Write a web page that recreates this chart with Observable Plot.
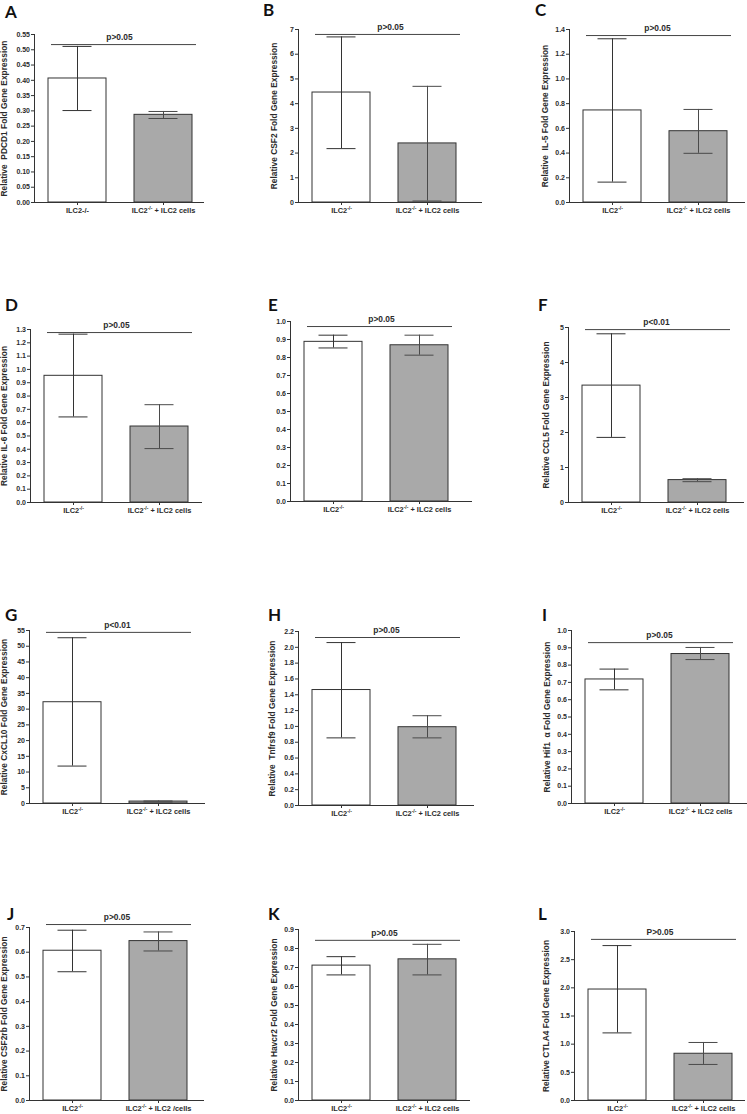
<!DOCTYPE html>
<html><head><meta charset="utf-8">
<script src="https://cdn.jsdelivr.net/npm/d3@7"></script>
<script src="https://cdn.jsdelivr.net/npm/@observablehq/plot@0.6"></script>
<style>
html,body{margin:0;padding:0;background:#fff;overflow:hidden}
#wrap{position:relative;width:747px;height:1114px;background:#fff}
.panel{position:absolute;overflow:visible}
.letter{position:absolute;font-family:Lato,"DejaVu Sans",sans-serif;font-weight:700;font-size:17px;line-height:18px;color:#111}
svg [aria-label="y-axis label"] text, svg [aria-label="y-axis label"]{font-size:8.4px}
</style></head>
<body><div id="wrap"></div>
<script>
// ---- data ----
const panelIds = ["A","B","C","D","E","F","G","H","I","J","K","L"];
const yTitles = [
  "Relative  PDCD1 Fold Gene Expression",
  "Relative CSF2 Fold Gene Expression",
  "Relative  IL-5 Fold Gene Expression",
  "Relative IL-6 Fold Gene Expression",
  "",
  "Relative CCL5 Fold Gene Expression",
  "Relative CxCL10 Fold Gene Expression",
  "Relative  Tnfrsf9 Fold Gene Expression",
  "Relative Hif1  \u03b1 Fold Gene Expression",
  "Relative CSF2rb Fold Gene Expression",
  "Relative Havcr2 Fold Gene Expression",
  "Relative CTLA4 Fold Gene Expression"
];
const SUP = "\u207b/\u207b";
const koLabels  = ["ILC2-/-","ILC2"+SUP,"ILC2"+SUP,"ILC2"+SUP,"ILC2"+SUP,"ILC2"+SUP,"ILC2"+SUP,"ILC2"+SUP,"ILC2"+SUP,"ILC2"+SUP,"ILC2"+SUP,"ILC2"+SUP];
const addLabels = ["ILC2"+SUP+" + ILC2 cells","ILC2"+SUP+" + ILC2 cells","ILC2"+SUP+" + ILC2 cells","ILC2"+SUP+" + ILC2 cells","ILC2"+SUP+" + ILC2 cells","ILC2"+SUP+" + ILC2 cells","ILC2"+SUP+" + ILC2 cells","ILC2"+SUP+" + ILC2 cells","ILC2"+SUP+" + ILC2 cells","ILC2"+SUP+" + ILC2 /cells","ILC2"+SUP+" + ILC2 cells","ILC2"+SUP+" + ILC2 cells"];
const koMean  = [0.406, 4.45, 0.745, 0.952, 0.887, 3.34, 32.2, 1.46, 0.717, 0.606, 0.710, 1.97];
const koLo    = [0.301, 2.18, 0.165, 0.643, 0.853, 1.86, 11.9, 0.855, 0.657, 0.521, 0.661, 1.20];
const koHi    = [0.511, 6.70, 1.325, 1.265, 0.924, 4.82, 52.7, 2.06, 0.777, 0.689, 0.757, 2.75];
const addMean = [0.287, 2.39, 0.577, 0.571, 0.868, 0.64, 0.62, 0.99, 0.864, 0.645, 0.743, 0.83];
const addLo   = [0.275, 0.06, 0.398, 0.405, 0.813, 0.595, 0.45, 0.855, 0.832, 0.605, 0.661, 0.64];
const addHi   = [0.298, 4.70, 0.753, 0.735, 0.924, 0.68, 0.80, 1.135, 0.902, 0.682, 0.822, 1.03];
const pLabels = ["p>0.05","p>0.05","p>0.05","p>0.05","p>0.05","p<0.01","p<0.01","p>0.05","p>0.05","p>0.05","p>0.05","P>0.05"];
const pLineY  = [0.517, 6.80, 1.351, 1.277, 0.972, 4.94, 54.4, 2.124, 0.93, 0.712, 0.843, 2.86];
const yTicks = [
  [0,0.05,0.10,0.15,0.20,0.25,0.30,0.35,0.40,0.45,0.50,0.55],
  [0,1,2,3,4,5,6,7],
  [0,0.2,0.4,0.6,0.8,1.0,1.2,1.4],
  [0,0.1,0.2,0.3,0.4,0.5,0.6,0.7,0.8,0.9,1.0,1.1,1.2,1.3],
  [0,0.1,0.2,0.3,0.4,0.5,0.6,0.7,0.8,0.9,1.0],
  [0,1,2,3,4,5],
  [0,5,10,15,20,25,30,35,40,45,50,55],
  [0,0.2,0.4,0.6,0.8,1.0,1.2,1.4,1.6,1.8,2.0,2.2],
  [0,0.1,0.2,0.3,0.4,0.5,0.6,0.7,0.8,0.9,1.0],
  [0,0.1,0.2,0.3,0.4,0.5,0.6,0.7],
  [0,0.1,0.2,0.3,0.4,0.5,0.6,0.7,0.8,0.9],
  [0,0.5,1.0,1.5,2.0,2.5,3.0]
];

// ---- layout (pixels): axisX, top, bottom, axisLength, letterX, letterY, titleOffset ----
const layout = [
  [34, 34, 202, 170, 5, 12, 29],
  [298, 29, 202, 184, 263, 10, 23],
  [569, 29, 202, 176, 535, 10, 23],
  [30, 329, 502, 172, 5, 305, 25],
  [290, 321, 501, 182, 268, 305, 0],
  [568, 327, 502, 176, 538, 305, 21],
  [29, 630, 803, 176, 5, 615, 24],
  [298, 631, 805, 176, 268, 615, 25],
  [571, 630, 803, 176, 542, 615, 23],
  [29, 927, 1100, 175, 7, 914, 24],
  [298, 929, 1100, 172, 268, 914, 23],
  [574, 931, 1100, 171, 538, 914, 27]
];

const wrap = document.getElementById("wrap");
const ml = 44, mt = 24, mb = 18, mr = 6;
const ink = "#2b2b2b";

function superscriptLabels(svg) {
  svg.querySelectorAll('[aria-label="x-axis tick label"] text').forEach(t => {
    const s = t.textContent;
    const k = s.indexOf(SUP);
    if (k < 0) return;
    const before = s.slice(0, k), after = s.slice(k + SUP.length);
    while (t.firstChild) t.removeChild(t.firstChild);
    const ns = "http://www.w3.org/2000/svg";
    const a = document.createElementNS(ns, "tspan"); a.textContent = before; t.appendChild(a);
    const b = document.createElementNS(ns, "tspan"); b.textContent = "-/-"; b.setAttribute("dy", "-2.6"); b.setAttribute("font-size", "5"); t.appendChild(b);
    if (after) { const c = document.createElementNS(ns, "tspan"); c.textContent = after; c.setAttribute("dy", "2.6"); t.appendChild(c); }
  });
}

panelIds.forEach((id, i) => {
  const [ax, top, bot, len, lx, ly, toff] = layout[i];
  const rows = [
    {g: koLabels[i], v: koMean[i], lo: koLo[i], hi: koHi[i], fill: "#ffffff", line: "#333333"},
    {g: addLabels[i], v: addMean[i], lo: addLo[i], hi: addHi[i], fill: "#a9a9a9", line: "#4a4a4a"}
  ];
  const ticks = yTicks[i];
  const fmt = d3.format("." + d3.precisionFixed(ticks[1] - ticks[0]) + "f");
  const W = ml + len + mr, H = mt + (bot - top) + mb;
  const svg = Plot.plot({
    width: W, height: H,
    marginLeft: ml, marginRight: mr, marginTop: mt, marginBottom: mb,
    style: {fontFamily: "'Liberation Sans', Arial, sans-serif", fontWeight: "bold", fontSize: "7px", color: ink, background: "transparent", overflow: "visible"},
    color: {type: "identity"},
    x: {type: "band", domain: [koLabels[i], addLabels[i]], range: [ml, ml + 172], paddingInner: 0.326, paddingOuter: 0.163, axis: null},
    y: {domain: [0, ticks[ticks.length - 1]], axis: null},
    marks: [
      Plot.barY(rows, {x: "g", y: "v", fill: "fill", stroke: "#333", strokeWidth: 1}),
      Plot.ruleX(rows, {x: "g", y1: "lo", y2: "hi", stroke: "line", strokeWidth: 1}),
      Plot.tickY(rows, {x: "g", y: "lo", stroke: "line", insetLeft: 14.5, insetRight: 14.5}),
      Plot.tickY(rows, {x: "g", y: "hi", stroke: "line", insetLeft: 14.5, insetRight: 14.5}),
      Plot.ruleY([pLineY[i]], {x1: () => koLabels[i], x2: () => addLabels[i], insetLeft: 3, insetRight: -4, stroke: "#444"}),
      Plot.text([pLabels[i]], {y: () => pLineY[i], text: d => d, dy: -7, fontSize: 8.4, fontWeight: "bold", fill: ink}),
      Plot.axisX({tickSize: 3, tickPadding: 2, fontSize: 7.4, stroke: "#333", fill: ink, label: null}),
      Plot.axisY({ticks, tickFormat: fmt, tickSize: 3, tickPadding: 1.5, fontSize: 7, stroke: "#333", fill: ink,
        label: yTitles[i] || null, labelAnchor: "center", labelArrow: "none", labelOffset: toff + 4}),
      Plot.ruleY([0], {stroke: "#333"}),
      Plot.frame({anchor: "left", stroke: "#333"})
    ]
  });
  superscriptLabels(svg);
  svg.classList.add("panel");
  svg.style.left = (ax - ml) + "px";
  svg.style.top = (top - mt) + "px";
  wrap.appendChild(svg);
  const letter = document.createElement("div");
  letter.className = "letter";
  letter.textContent = id;
  letter.style.left = lx + "px";
  letter.style.top = (ly - 9) + "px";
  wrap.appendChild(letter);
});
</script>
</body></html>
